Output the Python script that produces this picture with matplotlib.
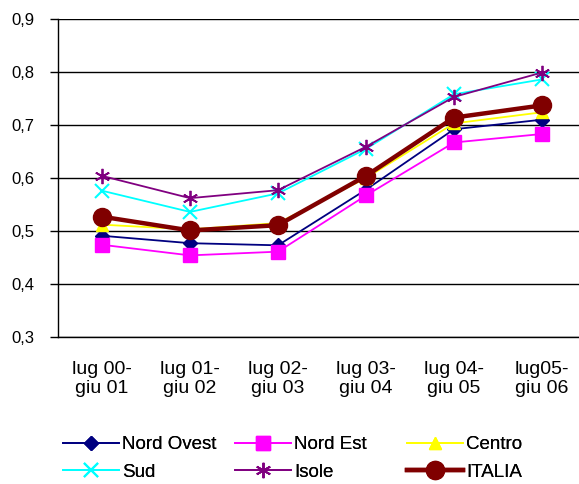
import matplotlib
matplotlib.use("Agg")
import matplotlib.pyplot as plt
import numpy as np

plt.rcParams["font.family"] = ["Liberation Sans", "DejaVu Sans"]

PERIODS = ["lug 00-\ngiu 01", "lug 01-\ngiu 02", "lug 02-\ngiu 03",
           "lug 03-\ngiu 04", "lug 04-\ngiu 05", "lug05-\ngiu 06"]

NORD_OVEST = [0.491, 0.477, 0.473, 0.578, 0.692, 0.710]
NORD_EST = [0.474, 0.454, 0.461, 0.567, 0.667, 0.683]
CENTRO = [0.512, 0.503, 0.515, 0.600, 0.703, 0.724]
SUD = [0.576, 0.536, 0.571, 0.655, 0.758, 0.786]
ISOLE = [0.604, 0.562, 0.577, 0.659, 0.753, 0.799]
ITALIA = [0.527, 0.501, 0.511, 0.604, 0.714, 0.737]

SERIES = [
    ("Nord Ovest", NORD_OVEST, dict(color="#000080", marker="D", markersize=7, lw=1.3)),
    ("Nord Est", NORD_EST, dict(color="#ff00ff", marker="s", markersize=10, lw=1.3)),
    ("Centro", CENTRO, dict(color="#ffff00", marker="^", markersize=9, lw=1.3)),
    ("Sud", SUD, dict(color="#00ffff", marker="x", markersize=10, mew=1.5, lw=1.3)),
    ("Isole", ISOLE, dict(color="#800080", marker=(6, 2, 0), markersize=11, mew=1.3, lw=1.3)),
    ("ITALIA", ITALIA, dict(color="#800000", marker="o", markersize=13, lw=3.2)),
]

fig = plt.figure(figsize=(5.79, 4.84), dpi=100)
ax = fig.add_axes([58 / 579, 1 - 337 / 484, 528 / 579, 318 / 484])

x = np.arange(len(PERIODS))
handles = []
for name, vals, style in SERIES:
    h, = ax.plot(x, vals, label=name, **style)
    handles.append(h)

ax.set_xlim(-0.5, len(PERIODS) - 0.5)
ax.set_ylim(0.3, 0.9)
yt = np.arange(0.3, 0.91, 0.1)
ax.set_yticks(yt)
ax.set_yticklabels([f"{v:.1f}".replace(".", ",") for v in yt], fontsize=12)
ax.set_xticks(x)
ax.set_xticklabels(PERIODS, fontsize=14, linespacing=1.15)
ax.tick_params(axis="x", length=0, pad=17)
ax.tick_params(axis="y", length=6, width=1, pad=11)
ax.grid(axis="y", color="black", lw=1)
ax.set_axisbelow(True)
for s in ["top", "right"]:
    ax.spines[s].set_visible(False)
ax.spines["left"].set_linewidth(1)
ax.spines["bottom"].set_linewidth(1)

# legend: three fixed-width columns, filled row by row
col_x = [63, 235, 407]
for i, cx in enumerate(col_x):
    hs = [handles[i], handles[i + 3]]
    leg = fig.legend(hs, [h.get_label() for h in hs], loc="upper left",
                     bbox_to_anchor=(cx / 579, 1 - 436 / 484), frameon=False,
                     fontsize=13.5, handlelength=3.0, handletextpad=0.15,
                     borderpad=0, borderaxespad=0, labelspacing=0.55)
    fig.add_artist(leg)

fig.savefig("out.png", dpi=100)
